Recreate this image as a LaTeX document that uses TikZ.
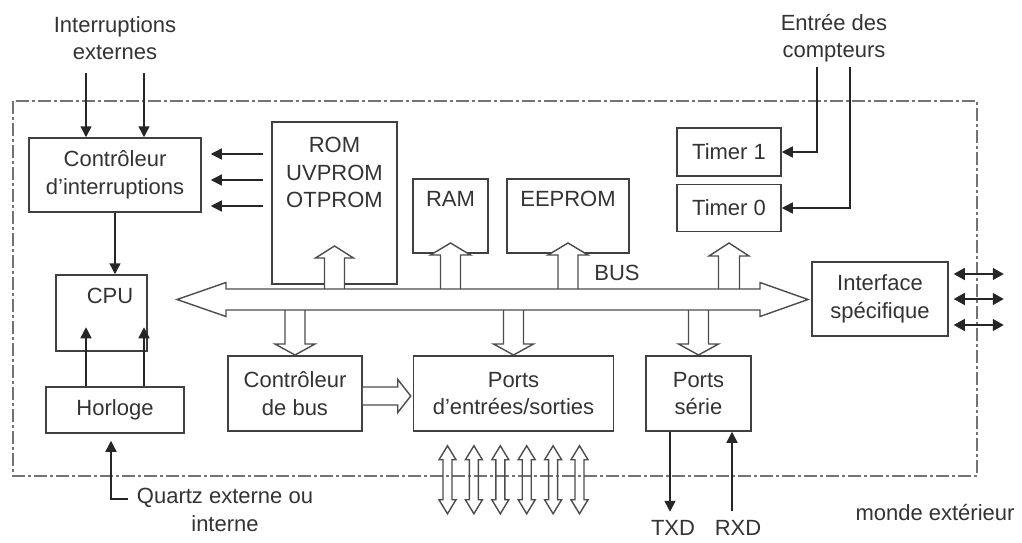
\documentclass[tikz,border=0pt]{standalone}
\usepackage{fontspec}
\setmainfont{Liberation Sans}
\usetikzlibrary{arrows.meta, positioning, calc}
\newcommand{\labfont}{\fontsize{22}{27.5}\selectfont}

\begin{document}
\begin{tikzpicture}[
    x=1pt, y=1pt,
    box/.style={draw=black!75, line width=1.5pt, font=\labfont, text=black!80,
                align=center, inner sep=0pt},
    lab/.style={font=\labfont, text=black!80, align=center, inner sep=0pt},
    arrow/.style={-{Triangle[length=11pt,width=11pt]}, line width=1.5pt, draw=black!85},
    arrowboth/.style={{Triangle[length=11pt,width=12pt]}-{Triangle[length=11pt,width=12pt]},
                      line width=1.5pt, draw=black!85},
    hollow/.style={draw=black!70, line width=1.4pt, line join=miter},
    frame/.style={draw=black!55, line width=1.4pt,
                  dash pattern=on 13pt off 3pt on 3pt off 3pt},
    pics/fat/.style n args={4}{code={
        \draw[hollow, fill=white] (-#3,0) -- (-#3,#1-#2) -- (-#4,#1-#2) -- (0,#1)
            -- (#4,#1-#2) -- (#3,#1-#2) -- (#3,0);}},
    pics/fatboth/.style n args={4}{code={
        \draw[hollow] (-#3,-#1+#2) -- (-#4,-#1+#2) -- (0,-#1) -- (#4,-#1+#2)
            -- (#3,-#1+#2) -- (#3,#1-#2) -- (#4,#1-#2) -- (0,#1)
            -- (-#4,#1-#2) -- (-#3,#1-#2) -- cycle;}},
]
\useasboundingbox (0,0) rectangle (1022,-543);
\draw[frame] (13,-101) rectangle (977,-476);

% blocks
\node[box, minimum width=172pt, minimum height=74pt] (ctrlint) at (115,-175) {Contrôleur\\d’interruptions};
\node[box, minimum width=91pt, minimum height=76pt,
      label={[lab, anchor=north, xshift=8.5pt, yshift=-14pt]north:CPU}] (cpu) at (101.5,-313) {};
\node[box, minimum width=138pt, minimum height=46pt] (horloge) at (115,-410) {Horloge};
\node[box, minimum width=125pt, minimum height=162pt,
      label={[lab, anchor=north, yshift=-16pt]north:{ROM\\UVPROM\\OTPROM}}] (rom) at (334.5,-203) {};
\node[box, minimum width=75pt, minimum height=74pt,
      label={[lab, anchor=north, yshift=-13pt]north:RAM}] (ram) at (450.5,-216) {};
\node[box, minimum width=122pt, minimum height=74pt,
      label={[lab, anchor=north, yshift=-13pt]north:EEPROM}] (eeprom) at (568,-216) {};
\node[box, minimum width=104pt, minimum height=48pt] (timer1) at (729,-152) {Timer 1};
\node[box, minimum width=104pt, minimum height=47pt, below=7pt of timer1] (timer0) {Timer 0};
\node[box, minimum width=136pt, minimum height=74pt] (iface) at (880,-299) {Interface\\spécifique};
\node[box, minimum width=134pt, minimum height=75pt] (ctrlbus) at (295,-393.5) {Contrôleur\\de bus};
\node[box, minimum width=200pt, minimum height=75pt, right=50pt of ctrlbus] (ports) {Ports\\d’entrées/sorties};
\node[box, minimum width=105pt, minimum height=75pt, right=31pt of ports] (serie) {Ports\\série};

% texts outside
\node[lab] (intext) at (115,-38) {Interruptions\\externes};
\node[lab] (cntin) at (834,-38) {Entrée des\\compteurs};
\node[lab] (buslab) at (617,-273) {BUS};
\node[lab] (quartz) at (225,-510) {Quartz externe ou\\interne};
\node[lab] (txd) at (673,-528) {TXD};
\node[lab] (rxd) at (738,-528) {RXD};
\node[lab] (monde) at (935,-513) {monde extérieur};

% connectors
\draw[arrow] ([xshift=-29pt,yshift=64pt]ctrlint.north) -- ([xshift=-29pt]ctrlint.north);
\draw[arrow] ([xshift=29pt,yshift=64pt]ctrlint.north) -- ([xshift=29pt]ctrlint.north);
\foreach \dy in {21,-5,-31}
  \draw[arrow] ($(ctrlint.east)+(61,\dy)$) -- ($(ctrlint.east)+(9,\dy)$);
\draw[arrow] (ctrlint.south) -- (ctrlint.south |- cpu.north);
\draw[arrow] ([xshift=-29pt]horloge.north) -- ++(0,59);
\draw[arrow] ([xshift=29pt]horloge.north) -- ++(0,59);
\draw[arrow] ($(horloge.south)+(13,-65)$) -| ($(horloge.south)+(-4,-7)$);
\draw[arrow] ($(cntin.center)+(-17,-29)$) |- (timer1.east);
\draw[arrow] ($(cntin.center)+(16,-29)$) |- (timer0.east);
\foreach \dy in {25,0,-26}
  \draw[arrowboth] ($(iface.east)+(5,\dy)$) -- ++(50,0);
\draw[arrow] ([xshift=-28.5pt]serie.south) -- ++(0,-80);
\draw[arrow] ([xshift=33.5pt,yshift=-79pt]serie.south) -- ([xshift=33.5pt]serie.south);

% bus and hollow arrows
\coordinate (busl) at (177,-299.5);
\coordinate (busr) at (808,-299.5);
\coordinate (bustop) at ($(busl)+(0,10.5)$);
\coordinate (busbot) at ($(busl)+(0,-10.5)$);
\pic at (rom.south |- bustop) {fat={43}{12}{10}{19}};
\pic at (ram.south |- bustop) {fat={46}{12}{10}{20}};
\pic at (eeprom.south |- bustop) {fat={46}{12}{10}{20}};
\pic at (timer0.south |- bustop) {fat={46}{13}{10.5}{20}};
\pic[rotate=180] at (ctrlbus.north |- busbot) {fat={45}{11}{10}{20}};
\pic[rotate=180] at (ports.north |- busbot) {fat={45}{11}{10}{20}};
\pic[rotate=180] at (serie.north |- busbot) {fat={45}{11}{10}{20}};
\pic[rotate=-90] at ($(ctrlbus.east)+(0,-2.5)$) {fat={48}{13}{9}{16.5}};
\foreach \i in {0,...,5}
  \pic at ($(ports.south)+(-66+26.4*\i,-48)$) {fatboth={34}{14}{4.5}{8.5}};
\draw[hollow] (busl) -- ++(49,17) -- ++(0,-6.5) -- ++(534,0) -- ++(0,6.5) -- (busr)
  -- ++(-48,-17) -- ++(0,6.5) -- ++(-534,0) -- ++(0,-6.5) -- cycle;
\end{tikzpicture}
\end{document}
